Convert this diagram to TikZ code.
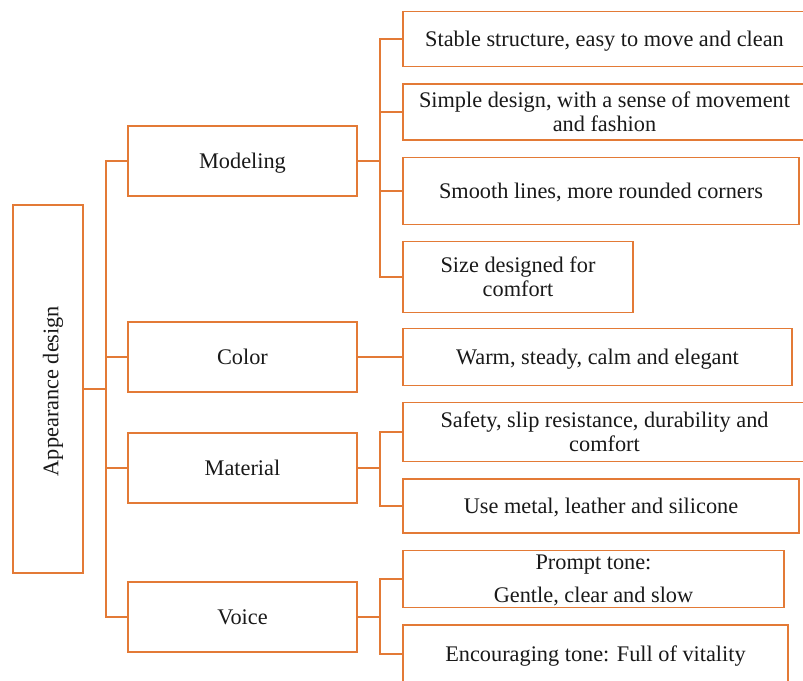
\documentclass[tikz,border=0pt]{standalone}
\usepackage{fontspec}
\setmainfont{Liberation Serif}
\definecolor{boxorange}{HTML}{E37A36}
\begin{document}
\begin{tikzpicture}[x=1pt,y=-1pt,
  box/.style={draw=boxorange, line width=1.8pt, fill=white, inner sep=0pt, outer sep=0pt,
    align=center, font=\fontsize{22.3}{24}\selectfont, text=black!90},
  low/.style={text depth=0pt},
  link/.style={draw=boxorange, line width=1.8pt, line cap=rect}]
\useasboundingbox (0,0) rectangle (803,680);
\clip (0,0) rectangle (803,680);
% root
\node[box, minimum width=70pt, minimum height=368pt] (root) at (48,389) {};
\node[font=\fontsize{22.3}{24}\selectfont, text=black!90, rotate=90, inner sep=0pt] (roottext) at (53,391) {Appearance design};
% level 2
\node[box, low, minimum width=229pt, minimum height=70pt] (mod) at (242.5,161) {Modeling};
\node[box, low, minimum width=229pt, minimum height=70pt] (col) at (242.5,357) {Color};
\node[box, low, minimum width=229pt, minimum height=70pt] (mat) at (242.5,468) {Material};
\node[box, low, minimum width=229pt, minimum height=70pt] (voi) at (242.5,617) {Voice};
% level 3
\node[box, low, minimum width=403pt, minimum height=55pt] (s1) at (604.5,39) {Stable structure, easy to move and clean};
\node[box, minimum width=403pt, minimum height=56pt] (s2) at (604.5,112) {Simple design, with a sense of movement\\and fashion};
\node[box, low, minimum width=396pt, minimum height=67pt] (s3) at (601,191) {Smooth lines, more rounded corners};
\node[box, minimum width=230pt, minimum height=71pt] (s4) at (518,277) {Size designed for\\comfort};
\node[box, low, minimum width=389pt, minimum height=57pt] (c1) at (597.5,357) {Warm, steady, calm and elegant};
\node[box, minimum width=403pt, minimum height=59pt] (m1) at (604.5,432) {Safety, slip resistance, durability and\\comfort};
\node[box, low, minimum width=396pt, minimum height=54pt] (m2) at (601,506) {Use metal, leather and silicone};
\node[box, low, minimum width=381pt, minimum height=57pt] (v1) at (593.5,579) {Prompt tone:\\[9pt]Gentle, clear and slow};
\node[box, low, minimum width=385pt, minimum height=58pt] (v2) at (595.5,654) {Encouraging tone: Full of vitality};
% junction x positions
\coordinate (x0) at (106,0);
\coordinate (x1) at (380,0);
% trunks
\draw[link] (x0 |- mod.west) -- (x0 |- voi.west);
\draw[link] (x1 |- s1.west) -- (x1 |- s4.west);
\draw[link] (x1 |- m1.west) -- (x1 |- m2.west);
\draw[link] (x1 |- v1.west) -- (x1 |- v2.west);
% branches
\draw[link] (root.east) -- (x0 |- root.east);
\foreach \n in {mod,col,mat,voi} \draw[link] (x0 |- \n.west) -- (\n.west);
\draw[link] (mod.east) -- (x1 |- mod.east);
\foreach \n in {s1,s2,s3,s4} \draw[link] (x1 |- \n.west) -- (\n.west);
\draw[link] (col.east) -- (c1.west);
\draw[link] (mat.east) -- (x1 |- mat.east);
\foreach \n in {m1,m2} \draw[link] (x1 |- \n.west) -- (\n.west);
\draw[link] (voi.east) -- (x1 |- voi.east);
\foreach \n in {v1,v2} \draw[link] (x1 |- \n.west) -- (\n.west);
\end{tikzpicture}
\end{document}
